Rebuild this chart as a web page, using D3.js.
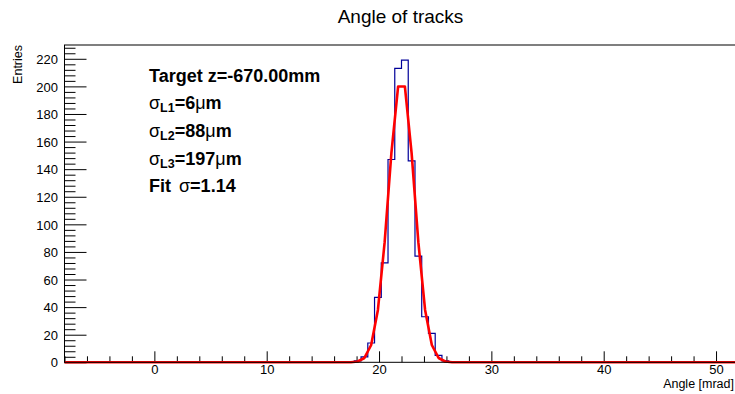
<!DOCTYPE html>
<html>
<head>
<meta charset="utf-8">
<script src="https://cdn.jsdelivr.net/npm/d3@7"></script>
<style>
  html, body { margin: 0; padding: 0; background: #fff; }
  svg { display: block; font-family: "Liberation Sans", Arial, Helvetica, sans-serif; }
</style>
</head>
<body>
<svg id="chart" width="735" height="394"></svg>
<script>
// ---- data ----
const xMin = -8, xMax = 52, binWidth = 0.6;        // 100 bins
const binLowEdges = [17.8, 18.4, 19.0, 19.6, 20.2, 20.8, 21.4, 22.0, 22.6, 23.2, 23.8, 24.4, 25.0, 25.6];
const binCounts   = [1,    4,    14,   47,   72,   147,  213,  219,  146,  77,   33,   21,   5,    1];
const fitConstant = 207, fitMean = 22.0, fitSigma = 1.14;
const xTickValues = [0, 10, 20, 30, 40, 50];
const yTickValues = [0, 20, 40, 60, 80, 100, 120, 140, 160, 180, 200, 220];
const yMax = 230;
const titleText = "Angle of tracks";
const xTitle = "Angle [mrad]";
const yTitle = "Entries";

// ---- layout ----
const svg = d3.select("#chart");
const mLeft = 64.5, mRight = 738.5, mTop = 45, mBottom = 362.3;
const x = d3.scaleLinear().domain([xMin, xMax]).range([mLeft, mRight]);
const y = d3.scaleLinear().domain([0, yMax]).range([mBottom, mTop]);

// minor ticks
const xMinor = d3.range(xMin, xMax + 1e-9, 2).filter(v => Math.abs(v % 10) > 1e-6);
const yMinor = d3.range(0, yMax + 1e-9, 4).filter(v => Math.abs(v % 20) > 1e-6);

// x axis
const gx = svg.append("g").attr("transform", `translate(0,${mBottom})`);
gx.append("g").call(d3.axisBottom(x).tickValues(xMinor).tickSize(-6).tickFormat(""));
gx.append("g").call(d3.axisBottom(x).tickValues(xTickValues).tickSize(-11).tickPadding(0).tickFormat(d3.format("d")));
gx.selectAll(".domain").remove();
gx.selectAll("line").attr("stroke", "#000");
gx.selectAll("text").attr("font-size", 13).attr("fill", "#000").attr("dy", null).attr("y", 12);

// y axis
const gy = svg.append("g").attr("transform", `translate(${mLeft},0)`);
gy.append("g").call(d3.axisLeft(y).tickValues(yMinor).tickSize(-11).tickFormat(""));
gy.append("g").call(d3.axisLeft(y).tickValues(yTickValues).tickSize(-22).tickPadding(0).tickFormat(d3.format("d")));
gy.selectAll(".domain").remove();
gy.selectAll("line").attr("stroke", "#000");
gy.selectAll("text").attr("font-size", 13).attr("fill", "#000").attr("x", -6.5).attr("dy", "0.36em");

// histogram outline (full set of bins, empty ones at zero)
const nBins = Math.round((xMax - xMin) / binWidth);
const allBins = d3.range(nBins).map(i => {
  const lo = xMin + i * binWidth;
  const k = binLowEdges.findIndex(e => Math.abs(e - lo) < 1e-6);
  return { lo: lo, hi: lo + binWidth, v: k >= 0 ? binCounts[k] : 0 };
});
const histPts = [[xMin, 0]];
allBins.forEach(b => { histPts.push([b.lo, b.v]); histPts.push([b.hi, b.v]); });
histPts.push([xMax, 0]);
svg.append("path")
  .attr("d", d3.line().x(d => x(d[0])).y(d => y(d[1]))(histPts))
  .attr("fill", "none").attr("stroke", "#000099").attr("stroke-width", 1.2);

// fit function evaluated at bin centres
const fitX = allBins.map(b => (b.lo + b.hi) / 2);
const fitPts = [[xMin, 0]].concat(fitX.map(v => [v, fitConstant * Math.exp(-0.5 * ((v - fitMean) / fitSigma) ** 2)])).concat([[xMax, 0]]);
svg.append("path")
  .attr("d", d3.line().x(d => x(d[0])).y(d => y(d[1]))(fitPts))
  .attr("fill", "none").attr("stroke", "#ff0000").attr("stroke-width", 2.6)
  .attr("stroke-linejoin", "round");

// frame
svg.append("rect").attr("x", mLeft).attr("y", mTop).attr("width", mRight - mLeft).attr("height", mBottom - mTop)
  .attr("fill", "none").attr("stroke", "#000").attr("stroke-width", 1);

// title
svg.append("text").attr("x", 400.5).attr("y", 23).attr("text-anchor", "middle")
  .attr("font-size", 19).text(titleText);

// axis titles
svg.append("text").attr("x", 734).attr("y", 388).attr("text-anchor", "end")
  .attr("font-size", 12.5).text(xTitle);
svg.append("text").attr("transform", `translate(22,${mTop}) rotate(-90)`).attr("text-anchor", "end")
  .attr("font-size", 12.5).text(yTitle);

// annotation
const ax = 149;
svg.append("text").attr("x", ax).attr("y", 81.7).attr("font-size", 18).attr("font-weight", "bold")
  .text("Target z=-670.00mm");
const sigLines = [["L1", "6"], ["L2", "88"], ["L3", "197"]];
const sigBase = [109.4, 137.1, 164.8];
sigLines.forEach((s, i) => {
  const t = svg.append("text").attr("x", ax).attr("y", sigBase[i]).attr("font-size", 18).attr("font-weight", "bold");
  t.append("tspan").attr("font-weight", "normal").text("σ");
  t.append("tspan").attr("font-size", 12.5).attr("dy", 3).text(s[0]);
  t.append("tspan").attr("dy", -3).text("=" + s[1]);
  t.append("tspan").attr("font-weight", "normal").text("μ");
  t.append("tspan").text("m");
});
const ft = svg.append("text").attr("x", ax).attr("y", 192.4).attr("font-size", 18).attr("font-weight", "bold");
ft.append("tspan").text("Fit ");
ft.append("tspan").attr("font-weight", "normal").attr("dx", 3).text("σ");
ft.append("tspan").text("=1.14");
</script>
</body>
</html>
